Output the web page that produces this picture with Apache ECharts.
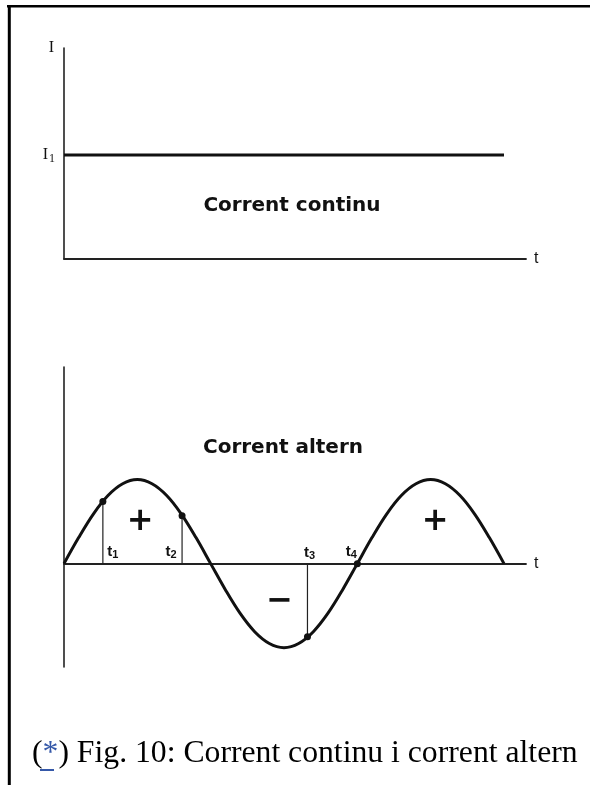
<!DOCTYPE html>
<html><head><meta charset="utf-8">
<script src="https://cdn.jsdelivr.net/npm/echarts@6/dist/echarts.min.js"></script>
<style>html,body{margin:0;padding:0;background:#fff}#c{width:590px;height:785px}</style>
</head><body><div id="c"></div>
<script>
// ---- Data ----
// Direct current (top): time in ms, current in units of I1
const dcTime = [0, 30];
const dcCurrent = [1, 1];
// Alternating current (bottom): time in ms, current in units of the peak
const acTime = [0,1,2,3,4,5,6,7,8,9,10,11,12,13,14,15,16,17,18,19,20,21,22,23,24,25,26,27,28,29,30];
const acCurrent = [0,0.31,0.59,0.81,0.95,1,0.95,0.81,0.59,0.31,0,-0.31,-0.59,-0.81,-0.95,-1,-0.95,-0.81,-0.59,-0.31,0,0.31,0.59,0.81,0.95,1,0.95,0.81,0.59,0.31,0];
// Marked instants t1..t4
const markIndex = ['1','2','3','4'];
const markTime = [2.65, 8.05, 16.6, 20];
const markCurrent = [0.74, 0.57, -0.87, 0];
// Sign annotations
const signText = ['+', '\u2212', '+'];
const signTime = [5.2, 14.7, 25.3];
const signCurrent = [0.5, -0.45, 0.5];
// Axis names / tick labels
const yNameTop = 'I';
const yTickTop = [1];
const yTickTopLabel = ['I', '1'];
const xName = 't';
const titles = ['Corrent continu', 'Corrent altern'];
const captionText = ') Fig. 10: Corrent continu i corrent altern';

// ---- Styles ----
const ink = '#111111';
const axisColor = '#222222';
const markLabelOffsets = [[10,-12],[-11,-12],[2,-11],[-6,-12]];

const chart = echarts.init(document.getElementById('c'), null, {renderer: 'canvas'});

const axisCommonX = {
  type: 'value', min: 0, max: 31.5,
  axisLine: {show: true, lineStyle: {color: axisColor, width: 1.8}},
  axisTick: {show: false}, axisLabel: {show: false}, splitLine: {show: false},
  name: xName, nameLocation: 'end', nameGap: 8,
  nameTextStyle: {fontFamily: 'Liberation Sans', fontSize: 16, color: ink, verticalAlign: 'middle'}
};

const acData = acTime.map((t, i) => [t, acCurrent[i]]);

const series = [
  {
    type: 'line', xAxisIndex: 0, yAxisIndex: 0,
    data: dcTime.map((t, i) => [t, dcCurrent[i]]),
    showSymbol: false, lineStyle: {color: ink, width: 3}, silent: true
  },
  {
    type: 'line', xAxisIndex: 1, yAxisIndex: 1,
    data: acData, smooth: 0.35, showSymbol: false,
    lineStyle: {color: ink, width: 3}, silent: true, z: 3
  }
];
markTime.forEach((t, i) => {
  series.push({
    type: 'line', xAxisIndex: 1, yAxisIndex: 1,
    data: [[t, 0], [t, markCurrent[i]]],
    showSymbol: false, lineStyle: {color: axisColor, width: 1.2}, silent: true, z: 2
  });
});
series.push({
  type: 'scatter', xAxisIndex: 1, yAxisIndex: 1,
  data: markTime.map((t, i) => [t, markCurrent[i]]),
  symbol: 'circle', symbolSize: 7, itemStyle: {color: ink, opacity: 1}, silent: true, z: 4
});
series.push({
  type: 'scatter', xAxisIndex: 1, yAxisIndex: 1,
  data: markTime.map((t, i) => ({
    value: [t, 0],
    label: {offset: markLabelOffsets[i]}
  })),
  symbolSize: 0, silent: true, z: 5, itemStyle: {opacity: 1},
  label: {
    show: true, position: 'inside',
    formatter: (p) => '{t|t}{s|' + markIndex[p.dataIndex] + '}',
    rich: {
      t: {fontFamily: 'Liberation Sans', fontSize: 15, fontWeight: 'bold', color: ink},
      s: {fontFamily: 'Liberation Sans', fontSize: 11, fontWeight: 'bold', color: ink, padding: [7, 0, 0, 0]}
    }
  }
});
series.push({
  type: 'scatter', xAxisIndex: 1, yAxisIndex: 1,
  data: signTime.map((t, i) => [t, signCurrent[i]]),
  symbolSize: 0, silent: true, itemStyle: {opacity: 1},
  label: {
    show: true, position: 'inside',
    formatter: (p) => signText[p.dataIndex],
    fontFamily: 'DejaVu Sans', fontWeight: 'bold', fontSize: 32, color: ink
  }
});

const option = {
  backgroundColor: '#ffffff',
  animation: false,
  grid: [
    {left: 64, top: 48, width: 462, height: 211},
    {left: 64, top: 367, width: 462, height: 300}
  ],
  xAxis: [
    Object.assign({gridIndex: 0}, axisCommonX),
    Object.assign({gridIndex: 1}, axisCommonX)
  ],
  yAxis: [
    {
      type: 'value', gridIndex: 0, min: 0, max: 2.03, interval: 1,
      axisLine: {show: true, lineStyle: {color: axisColor, width: 1.6}},
      axisTick: {show: false}, splitLine: {show: false},
      axisLabel: {
        show: true, margin: 9,
        formatter: (v) => yTickTop.indexOf(v) >= 0 ? '{i|' + yTickTopLabel[0] + '}{s|' + yTickTopLabel[1] + '}' : '',
        rich: {
          i: {fontFamily: 'Liberation Serif', fontSize: 16, color: ink},
          s: {fontFamily: 'Liberation Serif', fontSize: 12, color: ink, padding: [8, 0, 0, 1]}
        }
      },
      name: yNameTop, nameLocation: 'end', nameGap: 0,
      nameTextStyle: {fontFamily: 'Liberation Serif', fontSize: 16, color: ink, align: 'right', verticalAlign: 'middle', padding: [0, 10, 0, 0]}
    },
    {
      type: 'value', gridIndex: 1, min: -1.23, max: 2.34,
      axisLine: {show: true, onZero: false, lineStyle: {color: axisColor, width: 1.6}},
      axisTick: {show: false}, axisLabel: {show: false}, splitLine: {show: false}
    }
  ],
  series: series,
  graphic: [
    {type: 'line', shape: {x1: 7, y1: 6.3, x2: 590, y2: 6.3}, style: {stroke: '#000', lineWidth: 2.6}},
    {type: 'line', shape: {x1: 9.3, y1: 5, x2: 9.3, y2: 785}, style: {stroke: '#000', lineWidth: 3}},
    {type: 'text', x: 292, y: 205.5, style: {text: titles[0], fontFamily: 'DejaVu Sans', fontWeight: 'bold', fontSize: 20, fill: ink, align: 'center', verticalAlign: 'middle'}},
    {type: 'text', x: 283, y: 447.5, style: {text: titles[1], fontFamily: 'DejaVu Sans', fontWeight: 'bold', fontSize: 20, fill: ink, align: 'center', verticalAlign: 'middle'}},
    {type: 'text', x: 32, y: 754, style: {
      text: '{p|(}{a|*}{p|' + captionText + '}',
      align: 'left', verticalAlign: 'middle',
      rich: {
        p: {fontFamily: 'Liberation Serif', fontSize: 31.7, fill: '#000'},
        a: {fontFamily: 'Liberation Serif', fontSize: 31.7, fill: '#3558a8'}
      }
    }},
    {type: 'line', shape: {x1: 40, y1: 770, x2: 54, y2: 770}, style: {stroke: '#3558a8', lineWidth: 2}}
  ]
};
chart.setOption(option);
</script>
</body></html>
